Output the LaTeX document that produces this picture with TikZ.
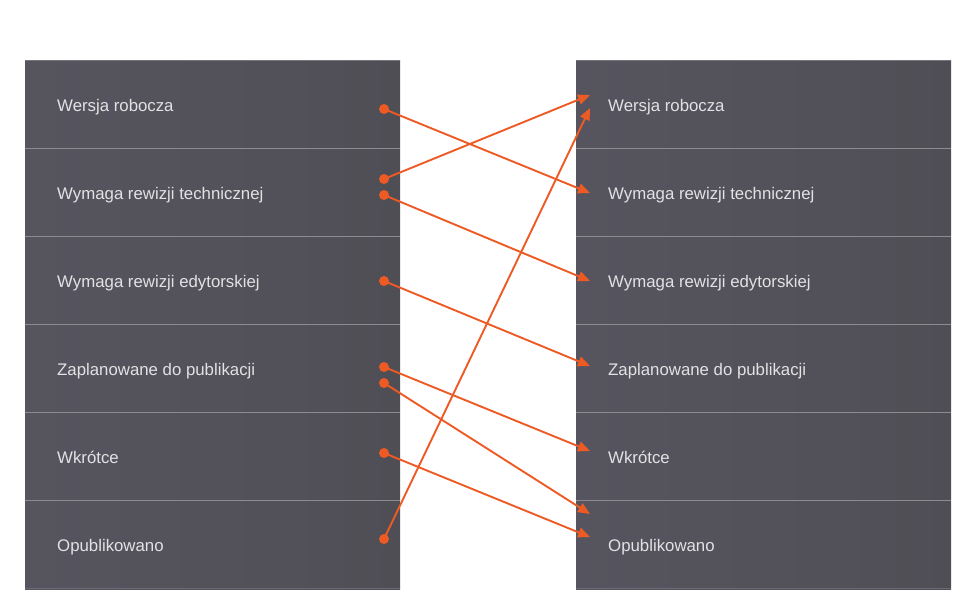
\documentclass[tikz,border=0pt]{standalone}
\usepackage{fontspec}
\setmainfont{Liberation Sans}
\usepackage{tikz}
\usetikzlibrary{arrows.meta}
\definecolor{panelL}{HTML}{56555F}
\definecolor{panelR}{HTML}{504E55}
\definecolor{rule}{HTML}{8C8B90}
\definecolor{linkc}{HTML}{EE5A24}
\definecolor{label}{HTML}{E2E2E4}
\tikzset{
  status/.style={anchor=base west,text=label,font=\fontsize{16.8}{19}\selectfont,inner sep=0pt},
  link/.style={draw=linkc,line width=1.9pt,-{Triangle[length=12pt,width=10pt]}},
}
\begin{document}
\begin{tikzpicture}[x=1pt,y=-1pt]
  \useasboundingbox (0,0) rectangle (976,614);
  \shade[left color=panelL,right color=panelR] (25,60) rectangle (400,589);
  \shade[left color=panelL,right color=panelR] (576,60) rectangle (951,589);
  \draw[rule!60!panelL,line width=1pt] (25,60.5) -- (400,60.5) (576,60.5) -- (951,60.5);
  \draw[rule!40!panelL,line width=1pt] (25,588.5) -- (400,588.5) (576,588.5) -- (951,588.5);
  \foreach \y in {148,236,324,412,500} {
    \draw[rule,line width=1pt] (25,\y) -- (400,\y);
    \draw[rule,line width=1pt] (576,\y) -- (951,\y);
  }
  % status rows
  \foreach \t [count=\i] in {Wersja robocza,Wymaga rewizji technicznej,Wymaga rewizji edytorskiej,Zaplanowane do publikacji,Wkrótce,Opublikowano} {
    \node[status] (l\i) at (57,{23+88*\i}) {\t};
    \node[status] (r\i) at (608,{23+88*\i}) {\t};
  }
  % transitions
  \foreach \a/\b [count=\k] in {109/193,179/95,195/281,281/366,367/451,383/514,453/537,539/108} {
    \coordinate (s\k) at (384,\a);
    \coordinate (t\k) at (590,\b);
    \draw[link] (s\k) -- (t\k);
    \fill[linkc] (s\k) circle [radius=5];
  }
\end{tikzpicture}
\end{document}
